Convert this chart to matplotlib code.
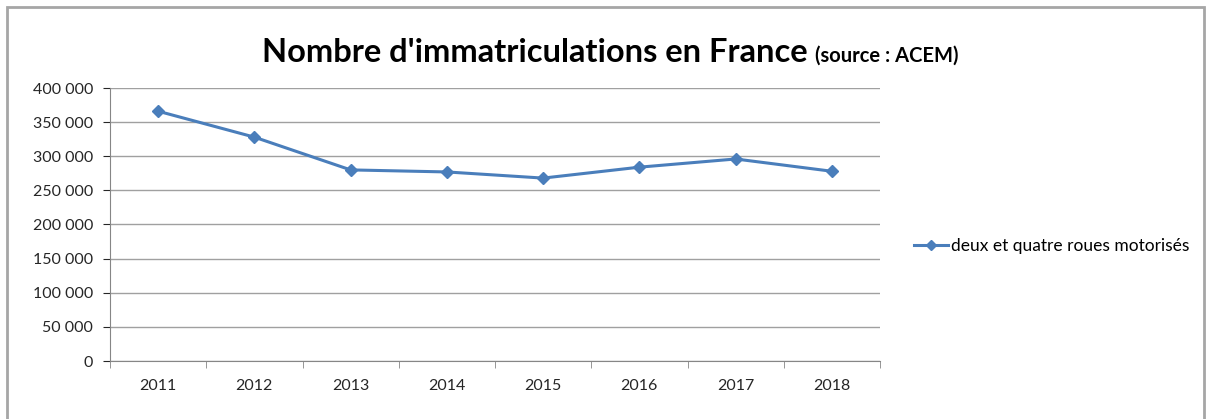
import matplotlib.pyplot as plt
from matplotlib.patches import Rectangle
from matplotlib.ticker import FuncFormatter, FixedLocator, NullFormatter

# ==========================================================
# Data
# ==========================================================

years = ["2011", "2012", "2013", "2014", "2015", "2016", "2017", "2018"]
immatriculations = [366000, 328000, 280000, 277000, 268000, 284000, 296000, 278000]
series_name = "deux et quatre roues motorisés"

plt.rcParams["font.family"] = ["Lato", "DejaVu Sans"]

fig = plt.figure(figsize=(12.14, 4.19), dpi=100)

# chart frame
fig.patches.append(
    Rectangle(
        (7 / 1214, -0.05),
        (1204 - 7) / 1214,
        1.05 - 7 / 419,
        transform=fig.transFigure,
        fill=False,
        edgecolor="#a6a6a6",
        linewidth=2,
    )
)

ax = fig.add_axes([110 / 1214, 1 - 361 / 419, 770 / 1214, 273 / 419])

x = list(range(len(years)))

ax.plot(
    x,
    immatriculations,
    color="#4a7ebb",
    linewidth=2.2,
    marker="D",
    markersize=6,
    label=series_name,
)

ax.set_xlim(-0.5, len(years) - 0.5)
ax.set_ylim(0, 400000)
ax.set_yticks(range(0, 400001, 50000))
ax.yaxis.set_major_formatter(
    FuncFormatter(lambda v, p: f"{int(v):,}".replace(",", " ") if v else "0")
)

ax.set_xticks(x)
ax.set_xticklabels(years)
ax.tick_params(axis="x", which="major", length=0, pad=13)
ax.xaxis.set_minor_locator(FixedLocator([i - 0.5 for i in range(len(years) + 1)]))
ax.xaxis.set_minor_formatter(NullFormatter())
ax.tick_params(axis="x", which="minor", length=5, color="#868686")
ax.tick_params(axis="y", length=5, color="#868686", labelsize=11.5, pad=7)
ax.tick_params(axis="x", labelsize=11.5, colors="#262626")
ax.tick_params(axis="y", colors="#262626")

ax.grid(axis="y", color="#a0a0a0", linewidth=1)
ax.set_axisbelow(True)

for side in ["top", "right"]:
    ax.spines[side].set_visible(False)
for side in ["left", "bottom"]:
    ax.spines[side].set_color("#868686")

fig.text(
    262 / 1214,
    1 - 62 / 419,
    "Nombre d'immatriculations en France",
    fontsize=23.5,
    fontweight="bold",
    va="baseline",
    ha="left",
)
fig.text(
    815 / 1214,
    1 - 62 / 419,
    "(source : ACEM)",
    fontsize=14.5,
    fontweight="bold",
    va="baseline",
    ha="left",
)

fig.legend(
    loc="center left",
    bbox_to_anchor=(898 / 1214, 1 - 246 / 419),
    frameon=False,
    fontsize=12.5,
    handlelength=2.0,
    handletextpad=0.15,
    markerscale=0.8,
)

plt.savefig("out.png", dpi=100)
plt.close()
